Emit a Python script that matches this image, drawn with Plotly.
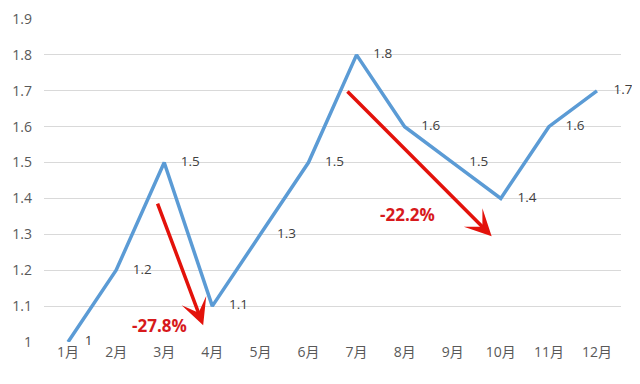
import plotly.graph_objects as go

months = ["1月", "2月", "3月", "4月", "5月", "6月", "7月", "8月", "9月", "10月", "11月", "12月"]
values = [1.0, 1.2, 1.5, 1.1, 1.3, 1.5, 1.8, 1.6, 1.5, 1.4, 1.6, 1.7]
value_labels = ["1", "1.2", "1.5", "1.1", "1.3", "1.5", "1.8", "1.6", "1.5", "1.4", "1.6", "1.7"]

# Decline annotations: (tail_x, tail_y, head_x, head_y, label_x, label_y, text)
declines = [
    (1.85, 1.39, 2.81, 1.047, 1.91, 1.045, "-27.8%"),
    (5.78, 1.702, 8.81, 1.295, 7.07, 1.354, "-22.2%"),
]

FONT = "'Open Sans', 'Noto Sans CJK SC', sans-serif"

fig = go.Figure()
fig.add_trace(go.Scatter(
    x=months, y=values, mode="lines",
    line=dict(color="#5B9BD5", width=3.5),
    cliponaxis=False, hoverinfo="skip", showlegend=False,
))
fig.add_trace(go.Scatter(
    x=months, y=values, mode="markers+text",
    text=value_labels, textposition="middle right",
    textfont=dict(size=13.5, color="#404040", family=FONT),
    marker=dict(size=25, color="rgba(0,0,0,0)"),
    cliponaxis=False, hoverinfo="skip", showlegend=False,
))

annotations = []
for tx, ty, hx, hy, lx, ly, txt in declines:
    annotations.append(dict(
        x=hx, y=hy, ax=tx, ay=ty, xref="x", yref="y", axref="x", ayref="y",
        text="", showarrow=True, arrowhead=3, arrowsize=1.25, arrowwidth=3.5,
        arrowcolor="#E3120B",
    ))
    annotations.append(dict(
        x=lx, y=ly, xref="x", yref="y", text="<b>" + txt + "</b>",
        showarrow=False, font=dict(size=17, color="#D7191C", family=FONT),
    ))

fig.update_layout(
    width=640, height=384,
    margin=dict(l=36, r=27, t=11, b=50, autoexpand=False),
    paper_bgcolor="white", plot_bgcolor="white",
    font=dict(family=FONT, color="#595959", size=14),
    xaxis=dict(
        type="category", range=[-0.5, 11.5], autorange=False,
        showgrid=False, zeroline=False, showline=False, automargin=False,
        ticks="", tickfont=dict(size=14, color="#595959"),
    ),
    yaxis=dict(
        range=[1, 1.9], autorange=False, dtick=0.1, tick0=1, showgrid=True,
        gridcolor="#D9D9D9", automargin=False,
        gridwidth=1, zeroline=False, showline=False, ticks="",
        tickfont=dict(size=14, color="#595959"), ticklabelstandoff=11,
    ),
    annotations=annotations,
    shapes=[dict(type="line", xref="paper", yref="paper",
                 x0=-44/577, x1=1+19/577, y0=1+18/323, y1=1+18/323,
                 line=dict(color="#D9D9D9", width=1))],
)

fig.write_html("out.html")
